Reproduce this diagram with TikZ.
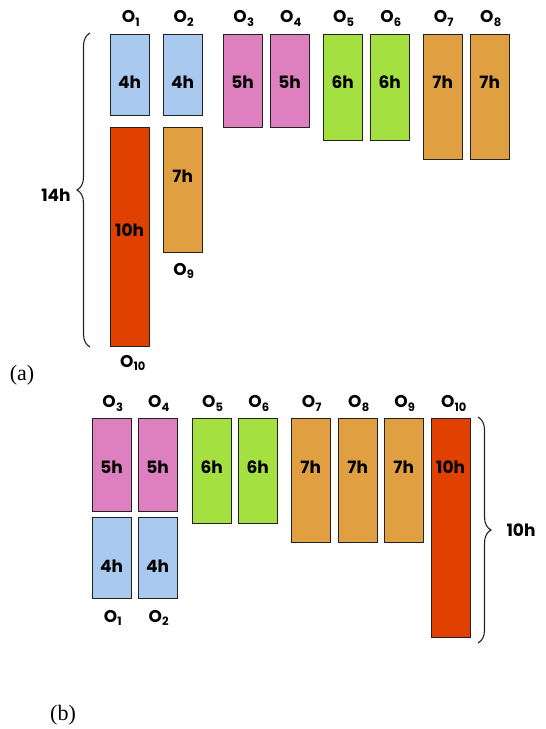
\documentclass[tikz,border=0pt]{standalone}
\usepackage{fontspec}
\setmainfont{Liberation Serif}
\newfontfamily\labfont{Poppins}
\usetikzlibrary{decorations.pathreplacing,calc}
\definecolor{cblue}{RGB}{169,201,238}
\definecolor{cpink}{RGB}{222,128,192}
\definecolor{cgreen}{RGB}{164,224,64}
\definecolor{corange}{RGB}{224,160,66}
\definecolor{cred}{RGB}{224,64,0}
\definecolor{cedge}{RGB}{34,34,34}
\newcommand\Osub[1]{O\kern0.2pt\raisebox{-0.35ex}{\fontsize{11.5}{11.5}\selectfont #1}}
\tikzset{
  box/.style={draw=cedge, line width=1.4pt, fill=#1, minimum width=39pt,
    anchor=north west, inner sep=0pt},
  hrs/.style={font=\labfont\bfseries\fontsize{17}{17}\selectfont, inner sep=0pt},
  olab/.style={font=\labfont\bfseries\fontsize{17}{17}\selectfont, inner sep=0pt},
  part/.style={font=\fontsize{22}{22}\selectfont, inner sep=0pt},
  bracel/.style={decorate, decoration={brace, amplitude=13pt}, line width=1.1pt, draw=cedge},
}
\begin{document}
\begin{tikzpicture}[x=1pt,y=-1pt]
\useasboundingbox (0,0) rectangle (546,729);
% ---------- (a) ----------
\node[box=cblue,   minimum height=81pt]  (o1a)  at (109.5,33.5) {};
\node[box=cblue,   minimum height=81pt]  (o2a)  at (162.5,33.5) {};
\node[box=cred,    minimum height=219pt] (o10a) at (109.5,126.5) {};
\node[box=corange, minimum height=125pt] (o9a)  at (162.5,126.5) {};
\node[box=cpink,   minimum height=93pt]  (o3a)  at (222.5,33.5) {};
\node[box=cpink,   minimum height=93pt]  (o4a)  at (269.5,33.5) {};
\node[box=cgreen,  minimum height=106pt] (o5a)  at (322.5,33.5) {};
\node[box=cgreen,  minimum height=106pt] (o6a)  at (369.5,33.5) {};
\node[box=corange, minimum height=125pt] (o7a)  at (422.5,33.5) {};
\node[box=corange, minimum height=125pt] (o8a)  at (469.5,33.5) {};

\node[hrs] (h1a)  at ($(o1a.north)+(0,49)$) {4h};
\node[hrs] (h2a)  at ($(o2a.north)+(0,49)$) {4h};
\node[hrs] (h10a) at ($(o10a.north)+(0,104)$) {10h};
\node[hrs] (h9a)  at ($(o9a.north)+(0,50)$) {7h};
\node[hrs] (h3a)  at ($(o3a.north)+(0,49)$) {5h};
\node[hrs] (h4a)  at ($(o4a.north)+(0,49)$) {5h};
\node[hrs] (h5a)  at ($(o5a.north)+(0,49)$) {6h};
\node[hrs] (h6a)  at ($(o6a.north)+(0,49)$) {6h};
\node[hrs] (h7a)  at ($(o7a.north)+(0,49)$) {7h};
\node[hrs] (h8a)  at ($(o8a.north)+(0,49)$) {7h};

\node[olab] (l1a) at ($(o1a.north)+(1,-15)$) {\Osub{1}};
\node[olab] (l2a) at ($(o2a.north)+(1,-15)$) {\Osub{2}};
\node[olab] (l3a) at ($(o3a.north)+(1,-15)$) {\Osub{3}};
\node[olab] (l4a) at ($(o4a.north)+(1,-15)$) {\Osub{4}};
\node[olab] (l5a) at ($(o5a.north)+(1,-15)$) {\Osub{5}};
\node[olab] (l6a) at ($(o6a.north)+(1,-15)$) {\Osub{6}};
\node[olab] (l7a) at ($(o7a.north)+(1,-15)$) {\Osub{7}};
\node[olab] (l8a) at ($(o8a.north)+(1,-15)$) {\Osub{8}};
\node[olab] (l9a) at ($(o9a.south)+(1,18)$) {\Osub{9}};
\node[olab] (l10a) at ($(o10a.south)+(3,16)$) {\Osub{10}};

\coordinate (ba1) at (90,347);
\coordinate (ba2) at (90,33);
\draw[bracel] (ba1) -- (ba2);
\node[olab] (t14) at (56,195) {14h};
\node[part] (pa) at (22,375) {(a)};

% ---------- (b) ----------
\node[box=cpink,   minimum height=93pt]  (o3b)  at (91.5,417.5) {};
\node[box=cpink,   minimum height=93pt]  (o4b)  at (137.5,417.5) {};
\node[box=cblue,   minimum height=81pt]  (o1b)  at (91.5,516.5) {};
\node[box=cblue,   minimum height=81pt]  (o2b)  at (137.5,516.5) {};
\node[box=cgreen,  minimum height=105pt] (o5b)  at (191.5,417.5) {};
\node[box=cgreen,  minimum height=105pt] (o6b)  at (237.5,417.5) {};
\node[box=corange, minimum height=124pt] (o7b)  at (290.5,417.5) {};
\node[box=corange, minimum height=124pt] (o8b)  at (337.5,417.5) {};
\node[box=corange, minimum height=124pt] (o9b)  at (383.5,417.5) {};
\node[box=cred,    minimum height=219pt] (o10b) at (430.5,417.5) {};

\node[hrs] (h3b)  at ($(o3b.north)+(0,50)$) {5h};
\node[hrs] (h4b)  at ($(o4b.north)+(0,50)$) {5h};
\node[hrs] (h1b)  at ($(o1b.north)+(0,50)$) {4h};
\node[hrs] (h2b)  at ($(o2b.north)+(0,50)$) {4h};
\node[hrs] (h5b)  at ($(o5b.north)+(0,50)$) {6h};
\node[hrs] (h6b)  at ($(o6b.north)+(0,50)$) {6h};
\node[hrs] (h7b)  at ($(o7b.north)+(0,50)$) {7h};
\node[hrs] (h8b)  at ($(o8b.north)+(0,50)$) {7h};
\node[hrs] (h9b)  at ($(o9b.north)+(0,50)$) {7h};
\node[hrs] (h10b) at ($(o10b.north)+(0,50)$) {10h};

\node[olab] (l3b) at ($(o3b.north)+(1,-14)$) {\Osub{3}};
\node[olab] (l4b) at ($(o4b.north)+(1,-14)$) {\Osub{4}};
\node[olab] (l5b) at ($(o5b.north)+(1,-14)$) {\Osub{5}};
\node[olab] (l6b) at ($(o6b.north)+(1,-14)$) {\Osub{6}};
\node[olab] (l7b) at ($(o7b.north)+(1,-14)$) {\Osub{7}};
\node[olab] (l8b) at ($(o8b.north)+(1,-14)$) {\Osub{8}};
\node[olab] (l9b) at ($(o9b.north)+(1,-14)$) {\Osub{9}};
\node[olab] (l10b) at ($(o10b.north)+(3,-14)$) {\Osub{10}};
\node[olab] (l1b) at ($(o1b.south)+(1,19)$) {\Osub{1}};
\node[olab] (l2b) at ($(o2b.south)+(1,19)$) {\Osub{2}};

\coordinate (bb1) at (478,417);
\coordinate (bb2) at (478,643);
\draw[bracel] (bb1) -- (bb2);
\node[olab] (t10) at (521,530) {10h};
\node[part] (pb) at (63,715) {(b)};
\end{tikzpicture}
\end{document}
